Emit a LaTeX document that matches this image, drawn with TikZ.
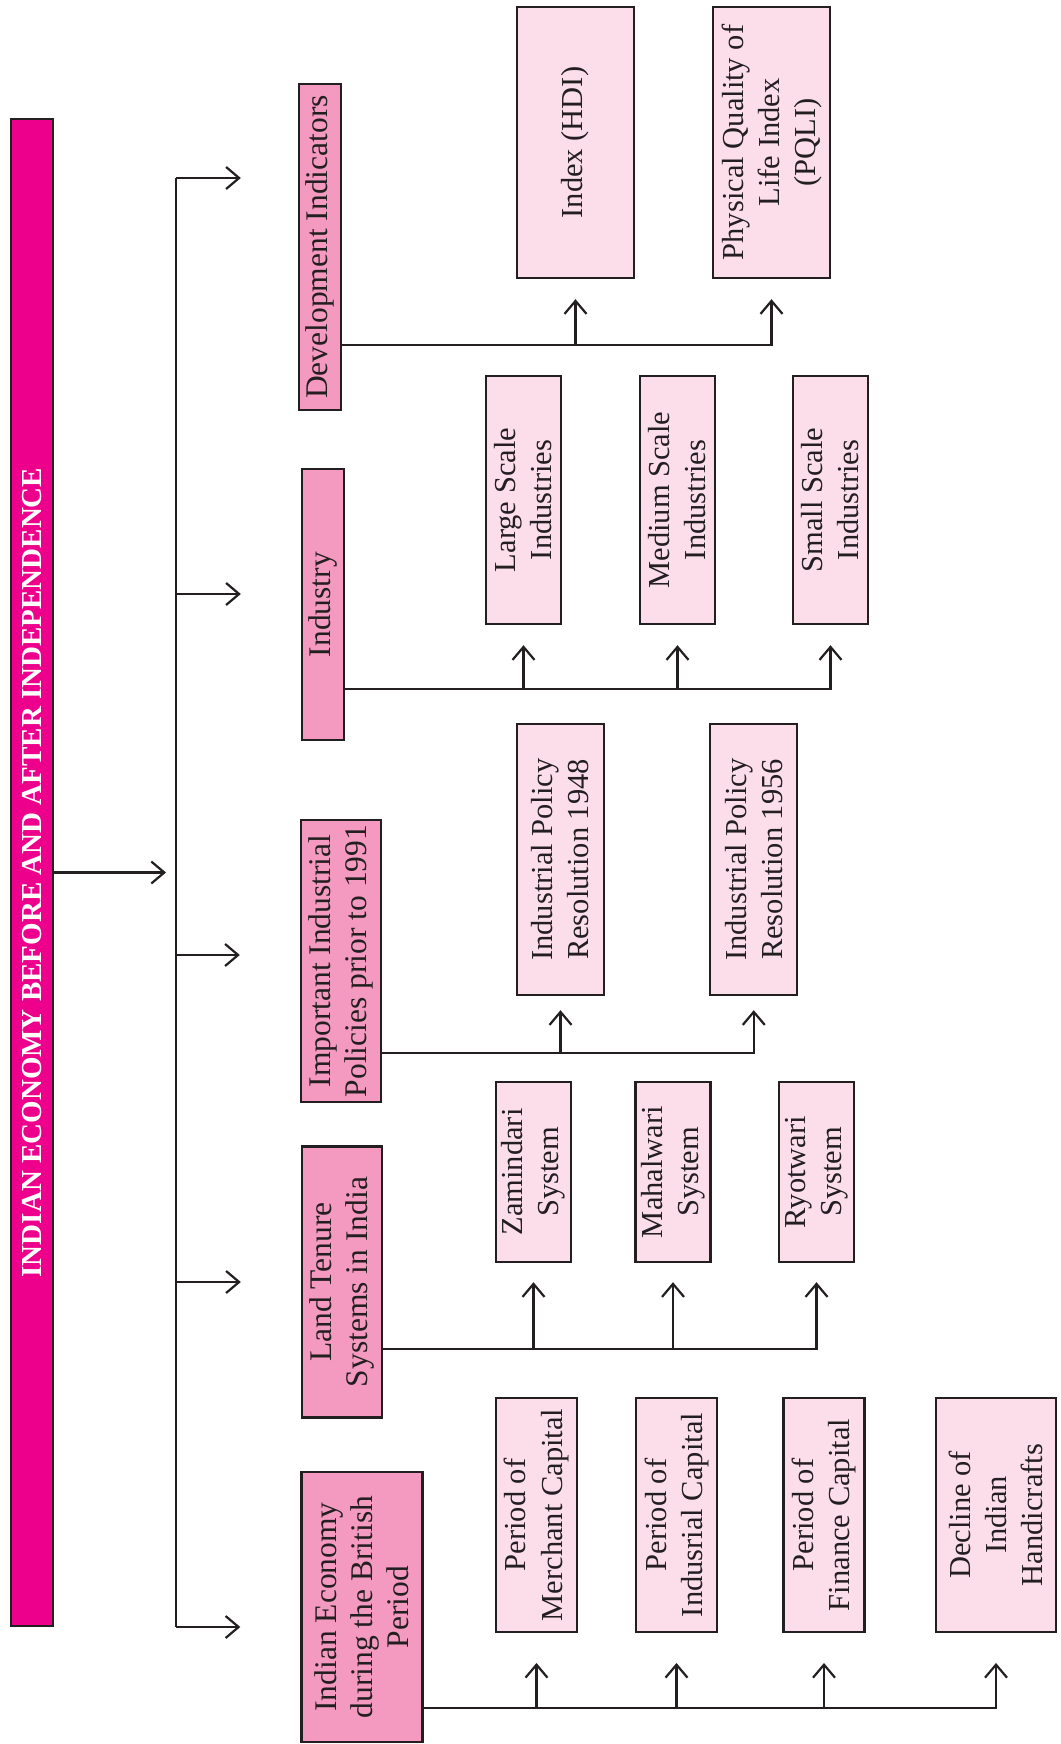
\documentclass[tikz,border=0pt]{standalone}
\usepackage{fontspec}
\setmainfont{Liberation Serif}
\usetikzlibrary{arrows.meta}
\definecolor{headpink}{HTML}{EC008C}
\definecolor{mainpink}{HTML}{F49AC1}
\definecolor{subpink}{HTML}{FCDEEA}
\definecolor{edgegray}{HTML}{231F20}
\tikzset{
  boxbase/.style={draw=edgegray, line width=2.4pt, rotate=90, inner sep=0pt, align=center,
    text=edgegray, font=\fontsize{30.5}{36}\selectfont},
  headbox/.style={boxbase, fill=headpink, text=white, font=\bfseries\fontsize{29}{34}\selectfont},
  mainbox/.style={boxbase, fill=mainpink, font=\fontsize{31.5}{36}\selectfont},
  subbox/.style={boxbase, fill=subpink},
  wire/.style={draw=edgegray, line width=2.2pt},
  link/.style={wire, -{Straight Barb[length=13pt,width=22pt,line width=2.2pt]}},
}

\begin{document}
\begin{tikzpicture}[x=1pt,y=1pt]
\useasboundingbox (0,0) rectangle (1060,-1744);

\node[headbox, minimum width=1507pt, minimum height=42pt] (title) at (32,-872.5) {INDIAN ECONOMY BEFORE AND AFTER INDEPENDENCE};

\node[mainbox, minimum width=326pt, minimum height=42pt] (dev) at (320,-247) {Development Indicators};
\node[mainbox, minimum width=271pt, minimum height=42pt] (ind) at (323,-604.5) {Industry};
\node[mainbox, minimum width=282pt, minimum height=80pt] (pol) at (341,-961) {Important Industrial\\Policies prior to 1991};
\node[mainbox, minimum width=271pt, minimum height=80pt] (land) at (342,-1282) {Land Tenure\\Systems in India};
\node[mainbox, minimum width=270pt, minimum height=121pt] (brit) at (362,-1607) {Indian Economy\\during the British\\Period};

\node[subbox, minimum width=271pt, minimum height=117pt] (hdi) at (575.5,-142.5) {Index (HDI)};
\node[subbox, minimum width=271pt, minimum height=117pt] (pqli) at (771.5,-142.5) {Physical Quality of\\Life Index\\(PQLI)};

\node[subbox, minimum width=248pt, minimum height=75pt] (large) at (523.5,-500) {Large Scale\\Industries};
\node[subbox, minimum width=248pt, minimum height=75pt] (medium) at (677.5,-500) {Medium Scale\\Industries};
\node[subbox, minimum width=248pt, minimum height=75pt] (small) at (830.5,-500) {Small Scale\\Industries};

\node[subbox, minimum width=271pt, minimum height=87pt] (ipr48) at (560.5,-859.5) {Industrial Policy\\Resolution 1948};
\node[subbox, minimum width=271pt, minimum height=87pt] (ipr56) at (753.75,-859.5) {Industrial Policy\\Resolution 1956};

\node[subbox, minimum width=180pt, minimum height=75pt] (zam) at (533.5,-1172) {Zamindari\\System};
\node[subbox, minimum width=180pt, minimum height=75pt] (mah) at (673,-1172) {Mahalwari\\System};
\node[subbox, minimum width=180pt, minimum height=75pt] (ryo) at (816.5,-1172) {Ryotwari\\System};

\node[subbox, minimum width=233.5pt, minimum height=81pt] (merch) at (536.5,-1515) {Period of\\Merchant Capital};
\node[subbox, minimum width=233.5pt, minimum height=81pt] (indus) at (676.5,-1515) {Period of\\Indusrial Capital};
\node[subbox, minimum width=233.5pt, minimum height=81pt] (fin) at (824,-1515) {Period of\\Finance Capital};
\node[subbox, minimum width=233.5pt, minimum height=120pt] (dec) at (996,-1515) {Decline of\\Indian\\Handicrafts};

\coordinate (tdev) at (176,-178);
\coordinate (tind) at (176,-594);
\coordinate (tpol) at (176,-955);
\coordinate (tland) at (176,-1282);
\coordinate (tbrit) at (176,-1627);

\draw[link] (title.south) -- ([xshift=-10pt]title.south -| tdev);
\draw[wire] (tdev) -- (tbrit);
\draw[link] (tdev) -- ([xshift=-57pt]tdev -| dev.north);
\draw[link] (tind) -- ([xshift=-60pt]tind -| ind.north);
\draw[link] (tpol) -- ([xshift=-60pt]tpol -| pol.north);
\draw[link] (tland) -- ([xshift=-60pt]tland -| land.north);
\draw[link] (tbrit) -- ([xshift=-60pt]tbrit -| brit.north);

\coordinate (devbus) at ([yshift=66pt]dev.south west);
\draw[link] (devbus) -| ([yshift=-20pt]pqli.west);
\draw[link] (devbus -| hdi.west) -- ([yshift=-20pt]hdi.west);

\coordinate (indbus) at ([yshift=52pt]ind.south west);
\draw[link] (indbus) -| ([yshift=-20pt]small.west);
\draw[link] (indbus -| large.west) -- ([yshift=-20pt]large.west);
\draw[link] (indbus -| medium.west) -- ([yshift=-20pt]medium.west);

\coordinate (polbus) at ([yshift=50pt]pol.south west);
\draw[link] (polbus) -| ([yshift=-14pt]ipr56.west);
\draw[link] (polbus -| ipr48.west) -- ([yshift=-14pt]ipr48.west);

\coordinate (landbus) at ([yshift=70pt]land.south west);
\draw[link] (landbus) -| ([yshift=-19pt]ryo.west);
\draw[link] (landbus -| zam.west) -- ([yshift=-19pt]zam.west);
\draw[link] (landbus -| mah.west) -- ([yshift=-19pt]mah.west);

\coordinate (britbus) at ([yshift=35pt]brit.south west);
\draw[link] (britbus) -| ([yshift=-30pt]dec.west);
\draw[link] (britbus -| merch.west) -- ([yshift=-30pt]merch.west);
\draw[link] (britbus -| indus.west) -- ([yshift=-30pt]indus.west);
\draw[link] (britbus -| fin.west) -- ([yshift=-30pt]fin.west);
\end{tikzpicture}
\end{document}
